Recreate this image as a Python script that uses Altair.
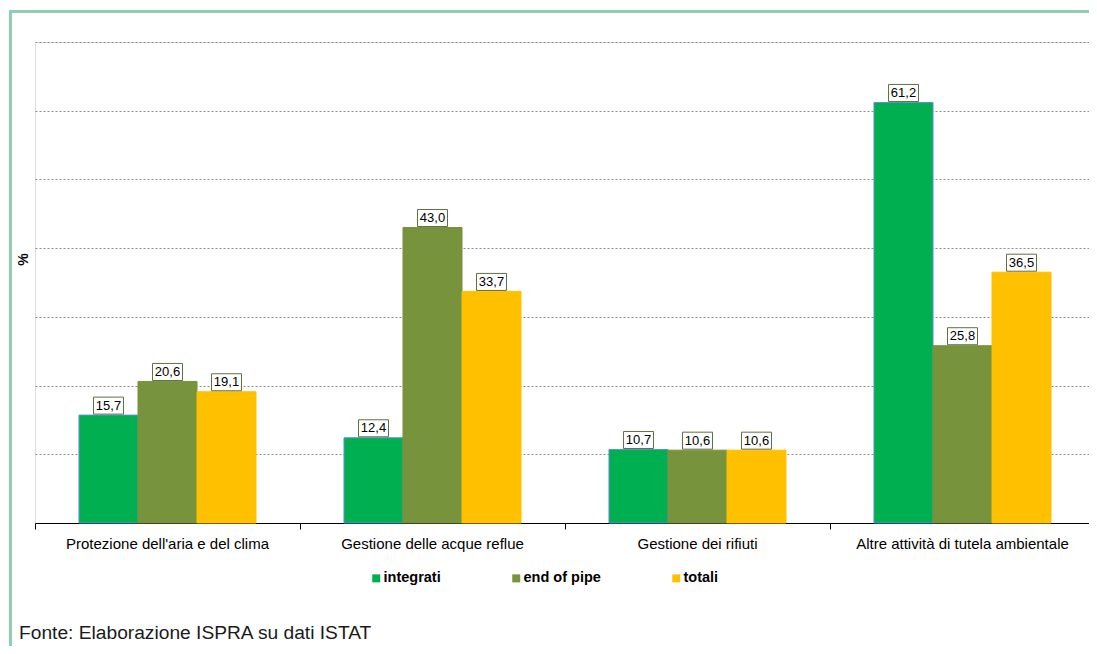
import altair as alt
import pandas as pd

categories = [
    "Protezione dell'aria e del clima",
    "Gestione delle acque reflue",
    "Gestione dei rifiuti",
    "Altre attività di tutela ambientale",
]
series = ["integrati", "end of pipe", "totali"]
integrati = [15.7, 12.4, 10.7, 61.2]
end_of_pipe = [20.6, 43.0, 10.6, 25.8]
totali = [19.1, 33.7, 10.6, 36.5]
colors = ["#00b050", "#77933c", "#ffc000"]
edge_colors = ["#5b8fd0", "#77933c", "#ffc000"]
y_ticks = [10, 20, 30, 40, 50, 60, 70]
y_title = "%"
source_note = "Fonte: Elaborazione ISPRA su dati ISTAT"

rows = []
for s, vals in zip(series, [integrati, end_of_pipe, totali]):
    for c, v in zip(categories, vals):
        rows.append({"categoria": c, "serie": s, "valore": v,
                     "etichetta": f"{v:.1f}".replace(".", ",")})
df = pd.DataFrame(rows)
bounds = pd.DataFrame({"b": list(range(len(categories) + 1))})

W, H = 1060, 481
FONT = "Liberation Sans"

x_enc = alt.X(
    "categoria:N", sort=categories,
    scale=alt.Scale(paddingInner=0.332, paddingOuter=0.166),
    axis=alt.Axis(title=None, ticks=False, labelAngle=0, labelFontSize=15,
                  labelColor="#000000", labelPadding=13, domainColor="#000000",
                  domainWidth=1, grid=False, labelLimit=400, labelFont=FONT),
)
xo_enc = alt.XOffset("serie:N", sort=series,
                     scale=alt.Scale(paddingInner=0, paddingOuter=0))
y_enc = alt.Y(
    "valore:Q", scale=alt.Scale(domain=[0, 70], nice=False),
    axis=alt.Axis(values=y_ticks, labels=False, ticks=False, domain=False,
                  grid=True, gridColor="#8c8c8c", gridDash=[2, 2], gridWidth=1,
                  title=y_title, titleFontSize=14, titleFontWeight="bold",
                  titleAngle=270, titleX=-12, titleY=217, titleAlign="center",
                  titleBaseline="middle", titleColor="#000000", titleFont=FONT),
)

base = alt.Chart(df)

bars = base.mark_bar(strokeWidth=1).encode(
    x=x_enc, xOffset=xo_enc, y=y_enc,
    color=alt.Color(
        "serie:N", sort=series,
        scale=alt.Scale(domain=series, range=colors),
        legend=alt.Legend(title=None, orient="none", legendX=334, legendY=529,
                          direction="horizontal", symbolType="square",
                          symbolSize=64, symbolStrokeWidth=0, labelFontSize=14.5,
                          labelFontWeight="bold", labelColor="#000000",
                          columnPadding=68, labelOffset=0, padding=0,
                          labelFont=FONT),
    ),
    stroke=alt.Stroke("serie:N", sort=series,
                      scale=alt.Scale(domain=series, range=edge_colors),
                      legend=None),
)

boxes = base.mark_point(
    shape="M-1,-0.567L1,-0.567L1,0.567L-1,0.567Z", size=900, fill="white",
    fillOpacity=1, stroke="#5f7041", strokeWidth=1, opacity=1, yOffset=-9.5,
).encode(x=x_enc, xOffset=xo_enc, y=y_enc)

texts = base.mark_text(
    fontSize=13, color="#000000", baseline="middle", dy=-9.5, font=FONT,
).encode(x=x_enc, xOffset=xo_enc, y=y_enc, text="etichetta:N")

inner = alt.layer(bars, boxes, texts)

ticks = alt.Chart(bounds).mark_point(opacity=0).encode(
    x=alt.X("b:Q", scale=alt.Scale(domain=[0, len(categories)], nice=False, zero=False),
            axis=alt.Axis(values=list(bounds["b"]), labels=False, ticks=True,
                          tickSize=6, tickColor="#000000", domain=False,
                          grid=False, title=None, orient="bottom")),
)

one = pd.DataFrame({"k": [0]})
frame_left = alt.Chart(one).mark_rule(color="#8ccfb4", strokeWidth=3).encode(
    x=alt.value(-24.5), y=alt.value(-32), y2=alt.value(H + 140))
frame_top = alt.Chart(one).mark_rule(color="#8ccfb4", strokeWidth=3).encode(
    x=alt.value(-26), x2=alt.value(W + 10), y=alt.value(-30.5))

note = alt.Chart(pd.DataFrame({"t": [source_note]})).mark_text(
    align="left", baseline="alphabetic", fontSize=19.2, color="#1a1a1a", font=FONT,
).encode(text="t:N", x=alt.value(-16), y=alt.value(597))

chart = alt.layer(inner, ticks, frame_left, frame_top, note).resolve_scale(
    x="independent"
).properties(
    width=W, height=H,
    autosize=alt.AutoSizeParams(type="none"),
    padding={"left": 27, "top": 34, "right": -6, "bottom": 123},
    background="white",
).configure_view(stroke=None).configure(font=FONT)

chart.save("out.html", embed_options={"renderer": "svg", "actions": False})
